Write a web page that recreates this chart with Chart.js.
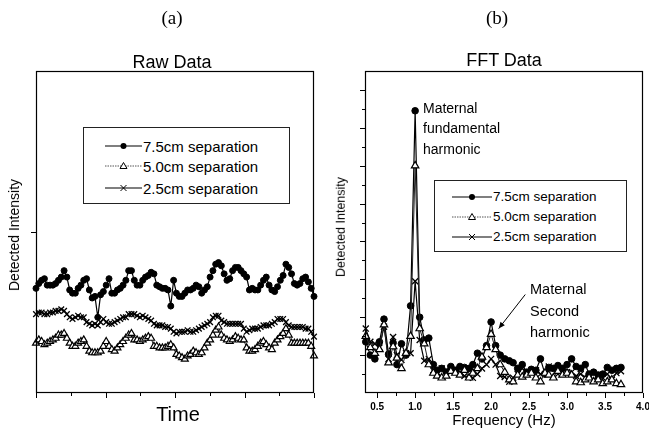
<!DOCTYPE html>
<html>
<head>
<meta charset="utf-8">
<script src="https://cdn.jsdelivr.net/npm/chart.js"></script>
<style>
	body { margin: 0; background: #fff; }
	#wrap { position: relative; width: 649px; height: 436px; overflow: hidden; font-family: "Liberation Sans", Arial, sans-serif; color: #000; }
	canvas { position: absolute; top: 0; }
	.t { position: absolute; white-space: nowrap; line-height: 1; }
	.c { transform: translate(-50%, -50%); }
	.l { transform: translate(0, -50%); }
	.rot { transform: translate(-50%, -50%) rotate(-90deg); }
	.lg { position: absolute; box-sizing: border-box; border: 1px solid #222; background: #fff; }
	.row { position: absolute; left: 0; height: 12px; }
	.row svg { position: absolute; top: 0; }
	.row span { position: absolute; top: 6px; transform: translate(0, -50%); white-space: nowrap; line-height: 1; }
</style>
</head>
<body>
<div id="wrap">
	<canvas id="cntx_raw" width="325" height="436" style="left:0"></canvas>
	<canvas id="cntx_fft" width="324" height="436" style="left:325px"></canvas>

	<div class="t c" style="left:172px;top:18px;font:19px 'Liberation Serif',serif;">(a)</div>
	<div class="t c" style="left:497px;top:18px;font:19px 'Liberation Serif',serif;">(b)</div>
	<div class="t c" style="left:172px;top:62px;font-size:18px;">Raw Data</div>
	<div class="t c" style="left:504px;top:60px;font-size:18px;">FFT Data</div>
	<div class="t rot" style="left:14px;top:235px;font-size:14px;">Detected Intensity</div>
	<div class="t rot" style="left:341px;top:227px;font-size:12.5px;">Detected Intensity</div>
	<div class="t c" style="left:178px;top:414px;font-size:20px;">Time</div>
	<div class="t c" style="left:504px;top:419px;font-size:15px;">Frequency (Hz)</div>

	<div class="t l" style="left:423px;top:108px;font-size:14px;">Maternal</div>
	<div class="t l" style="left:423px;top:128px;font-size:14px;">fundamental</div>
	<div class="t l" style="left:423px;top:149px;font-size:14px;">harmonic</div>
	<div class="t l" style="left:530px;top:289px;font-size:14.5px;">Maternal</div>
	<div class="t l" style="left:530px;top:311px;font-size:14.5px;">Second</div>
	<div class="t l" style="left:530px;top:332px;font-size:14.5px;">harmonic</div>

	<div class="lg" id="legend_raw" style="left:83px;top:127px;width:207px;height:77px;"></div>
	<div class="lg" id="legend_fft" style="left:434px;top:180px;width:193px;height:72px;"></div>
</div>
<script>
// series names
const seriesLabels = ["7.5cm separation", "5.0cm separation", "2.5cm separation"];

// (a) raw data, one value per sample (arbitrary units)
const raw75 = [
	0.65, 0.68, 0.70, 0.71, 0.67, 0.67, 0.67, 0.68, 0.70, 0.72,
	0.76, 0.72, 0.64, 0.62, 0.62, 0.65, 0.67, 0.70, 0.71, 0.64,
	0.59, 0.60, 0.47, 0.61, 0.63, 0.67, 0.71, 0.62, 0.62, 0.64,
	0.65, 0.67, 0.70, 0.76, 0.76, 0.70, 0.67, 0.67, 0.70, 0.72,
	0.73, 0.75, 0.74, 0.67, 0.66, 0.65, 0.65, 0.64, 0.54, 0.70,
	0.62, 0.60, 0.60, 0.62, 0.64, 0.64, 0.65, 0.67, 0.66, 0.62,
	0.64, 0.66, 0.72, 0.76, 0.80, 0.81, 0.79, 0.74, 0.70, 0.71,
	0.76, 0.78, 0.78, 0.76, 0.74, 0.72, 0.64, 0.65, 0.64, 0.64,
	0.67, 0.70, 0.72, 0.67, 0.64, 0.63, 0.66, 0.70, 0.73, 0.80,
	0.78, 0.74, 0.68, 0.67, 0.68, 0.71, 0.72, 0.69, 0.65, 0.60,
];
const raw50 = [
	0.31, 0.33, 0.32, 0.30, 0.31, 0.32, 0.33, 0.34, 0.36, 0.36,
	0.37, 0.34, 0.31, 0.29, 0.29, 0.31, 0.32, 0.33, 0.29, 0.26,
	0.25, 0.25, 0.25, 0.26, 0.29, 0.32, 0.29, 0.27, 0.26, 0.28,
	0.30, 0.32, 0.34, 0.36, 0.37, 0.33, 0.33, 0.32, 0.33, 0.34,
	0.35, 0.34, 0.29, 0.29, 0.28, 0.28, 0.28, 0.29, 0.30, 0.28,
	0.24, 0.23, 0.22, 0.21, 0.23, 0.24, 0.26, 0.25, 0.24, 0.25,
	0.28, 0.31, 0.33, 0.36, 0.39, 0.41, 0.36, 0.34, 0.33, 0.32,
	0.33, 0.35, 0.34, 0.33, 0.33, 0.28, 0.26, 0.26, 0.27, 0.29,
	0.31, 0.32, 0.30, 0.28, 0.27, 0.31, 0.33, 0.35, 0.37, 0.40,
	0.36, 0.31, 0.31, 0.31, 0.31, 0.31, 0.31, 0.31, 0.29, 0.23,
];
const raw25 = [
	0.49, 0.50, 0.50, 0.49, 0.49, 0.50, 0.50, 0.51, 0.51, 0.52,
	0.51, 0.49, 0.47, 0.46, 0.47, 0.48, 0.47, 0.47, 0.44, 0.43,
	0.42, 0.43, 0.42, 0.44, 0.46, 0.44, 0.43, 0.43, 0.44, 0.45,
	0.46, 0.47, 0.47, 0.49, 0.49, 0.49, 0.48, 0.47, 0.48, 0.47,
	0.46, 0.45, 0.43, 0.42, 0.42, 0.42, 0.41, 0.41, 0.40, 0.38,
	0.37, 0.38, 0.38, 0.38, 0.39, 0.38, 0.38, 0.39, 0.40, 0.41,
	0.42, 0.43, 0.44, 0.47, 0.48, 0.48, 0.45, 0.44, 0.43, 0.43,
	0.43, 0.43, 0.43, 0.43, 0.40, 0.38, 0.39, 0.40, 0.40, 0.40,
	0.41, 0.42, 0.42, 0.42, 0.43, 0.44, 0.46, 0.46, 0.46, 0.44,
	0.42, 0.41, 0.41, 0.41, 0.41, 0.41, 0.40, 0.40, 0.38, 0.35,
];

// (b) FFT data
const fftFreq = [
	0.35, 0.41, 0.47, 0.53, 0.59, 0.65, 0.71, 0.76, 0.82, 0.88,
	0.94, 1.00, 1.06, 1.12, 1.18, 1.24, 1.29, 1.35, 1.41, 1.47,
	1.53, 1.59, 1.65, 1.71, 1.76, 1.82, 1.88, 1.94, 2.00, 2.06,
	2.12, 2.18, 2.24, 2.29, 2.35, 2.41, 2.47, 2.53, 2.59, 2.65,
	2.71, 2.76, 2.82, 2.88, 2.94, 3.00, 3.06, 3.12, 3.18, 3.24,
	3.29, 3.35, 3.41, 3.47, 3.53, 3.59, 3.65, 3.71,
];
const fft75 = [
	2.7, 2.0, 1.8, 2.7, 3.9, 2.05, 2.65, 1.5, 2.6, 2.0,
	4.6, 14.9, 4.0, 2.8, 2.9, 1.5, 1.2, 1.3, 1.1, 1.4,
	1.2, 1.4, 1.35, 1.3, 1.5, 2.1, 1.8, 2.5, 3.75, 2.5,
	2.0, 1.8, 1.7, 1.6, 1.3, 1.5, 1.1, 1.25, 1.2, 1.8,
	1.0, 1.35, 1.3, 1.45, 1.3, 1.5, 1.8, 1.4, 1.3, 1.5,
	1.0, 1.1, 0.95, 1.0, 1.35, 1.2, 1.3, 1.35,
];
const fft50 = [
	3.0, 2.4, 2.1, 2.3, 3.6, 1.6, 2.45, 1.85, 1.3, 2.1,
	3.0, 12.0, 3.4, 2.6, 1.5, 1.05, 0.9, 0.8, 0.9, 1.15,
	1.05, 0.95, 1.2, 0.8, 1.05, 1.3, 1.9, 2.4, 3.1, 2.3,
	1.5, 1.1, 0.7, 0.6, 0.95, 0.85, 0.95, 1.05, 0.8, 0.6,
	1.05, 0.95, 0.8, 1.15, 0.95, 1.05, 0.95, 0.6, 0.55, 0.7,
	0.8, 0.6, 0.7, 0.5, 0.6, 0.7, 0.5, 0.45,
];
const fft25 = [
	3.4, 2.7, 2.6, 2.4, 3.5, 1.8, 2.95, 2.0, 1.75, 2.1,
	2.1, 5.9, 2.8, 1.7, 1.8, 1.2, 1.1, 1.3, 1.2, 1.3,
	1.3, 1.1, 0.9, 0.85, 0.8, 1.0, 1.3, 1.5, 1.8, 1.5,
	0.9, 0.85, 0.6, 0.8, 1.0, 1.3, 1.1, 1.2, 1.2, 1.0,
	1.0, 1.4, 1.3, 1.0, 1.3, 1.1, 1.1, 0.9, 1.0, 0.8,
	0.9, 0.7, 0.9, 0.8, 1.0, 0.7, 1.05, 1.15,
];

// tick marks / labels
const rawXMajor = [0, 24.75, 49.5, 74.25, 99];
const rawXMinor = [12.375, 37.125, 61.875, 86.625];
const rawYMajor = [1];
const fftXMajor = [0.5, 1.0, 1.5, 2.0, 2.5, 3.0, 3.5, 4.0];
const fftXMinor = [0.75, 1.25, 1.75, 2.25, 2.75, 3.25, 3.75];
const fftYMajor = [2, 4, 6, 8, 10, 12, 14, 16];
const fftYMinor = [1, 3, 5, 7, 9, 11, 13, 15];

// frame, outward ticks, tick labels, arrow
const frameTicks = {
	id: "frameTicks",
	afterDraw(chart, args, opts) {
		const { ctx, chartArea: a } = chart;
		const x = chart.scales.x, y = chart.scales.y;
		ctx.save();
		ctx.strokeStyle = "#000";
		ctx.lineWidth = 1.2;
		ctx.strokeRect(a.left + 0.5, a.top + 0.5, a.right - a.left - 1, a.bottom - a.top - 1);
		ctx.lineWidth = 1;
		ctx.beginPath();
		const xt = (list, len) => list.forEach((v) => {
			const px = Math.round(x.getPixelForValue(v)) + 0.5;
			ctx.moveTo(px, a.bottom);
			ctx.lineTo(px, a.bottom + len);
		});
		const yt = (list, len) => list.forEach((v) => {
			const py = Math.round(y.getPixelForValue(v)) + 0.5;
			ctx.moveTo(a.left, py);
			ctx.lineTo(a.left - len, py);
		});
		xt(opts.xMajor || [], 5);
		xt(opts.xMinor || [], 3);
		yt(opts.yMajor || [], 5);
		yt(opts.yMinor || [], 3);
		ctx.stroke();
		if (opts.xLabels) {
			ctx.fillStyle = "#000";
			ctx.font = "bold 10px 'Liberation Sans', Arial, sans-serif";
			ctx.textAlign = "center";
			ctx.textBaseline = "middle";
			opts.xLabels.forEach((v) => ctx.fillText(v.toFixed(1), x.getPixelForValue(v), a.bottom + 14));
		}
		if (opts.arrow) {
			const x0 = x.getPixelForValue(opts.arrow.from[0]), y0 = y.getPixelForValue(opts.arrow.from[1]);
			const x1 = x.getPixelForValue(opts.arrow.to[0]), y1 = y.getPixelForValue(opts.arrow.to[1]);
			const ang = Math.atan2(y1 - y0, x1 - x0);
			ctx.beginPath();
			ctx.moveTo(x0, y0);
			ctx.lineTo(x1, y1);
			ctx.stroke();
			ctx.beginPath();
			ctx.moveTo(x1, y1);
			ctx.lineTo(x1 - 7 * Math.cos(ang - 0.4), y1 - 7 * Math.sin(ang - 0.4));
			ctx.lineTo(x1 - 7 * Math.cos(ang + 0.4), y1 - 7 * Math.sin(ang + 0.4));
			ctx.closePath();
			ctx.fillStyle = "#000";
			ctx.fill();
		}
		ctx.restore();
	},
};

const toPoints = (xs, ys) => ys.map((v, i) => ({ x: xs ? xs[i] : i, y: v }));

makeSets = (xs, a, b, c, r) => [
	{
		label: seriesLabels[0], data: toPoints(xs, a), order: 3,
		borderColor: "#000", borderWidth: 1.2, pointStyle: "circle",
		pointRadius: r, pointBackgroundColor: "#000", pointBorderColor: "#000", pointBorderWidth: 1,
	},
	{
		label: seriesLabels[1], data: toPoints(xs, b), order: 1,
		borderColor: "#222", borderWidth: 1, pointStyle: "triangle",
		pointRadius: r + 1, pointBackgroundColor: "#fff", pointBorderColor: "#000", pointBorderWidth: 1.2,
	},
	{
		label: seriesLabels[2], data: toPoints(xs, c), order: 2,
		borderColor: "#000", borderWidth: 1.2, pointStyle: "crossRot",
		pointRadius: r + 1, pointBorderColor: "#000", pointBorderWidth: 1.3,
	},
];

drawChart = (canvas, datasets, scales, padding, tickOpts) => {
	return new Chart(canvas, {
		type: "line",
		data: { datasets: datasets.map((d) => Object.assign({ tension: 0, clip: false, fill: false }, d)) },
		options: {
			responsive: false,
			animation: false,
			layout: { padding: padding },
			plugins: { legend: { display: false }, tooltip: { enabled: false }, frameTicks: tickOpts },
			scales: scales,
		},
		plugins: [frameTicks],
	});
};

drawChart(
	document.querySelector("#cntx_raw"),
	makeSets(null, raw75, raw50, raw25, 3),
	{
		x: { type: "linear", min: 0, max: 99, display: false },
		y: { type: "linear", min: 0, max: 2, display: false },
	},
	{ left: 36, top: 71, right: 11, bottom: 43 },
	{ xMajor: rawXMajor, xMinor: rawXMinor, yMajor: rawYMajor }
);

drawChart(
	document.querySelector("#cntx_fft"),
	makeSets(fftFreq, fft75, fft50, fft25, 3.3),
	{
		x: { type: "linear", min: 0.34, max: 4.0, display: false },
		y: { type: "linear", min: 0, max: 17, display: false },
	},
	{ left: 40, top: 71, right: 6, bottom: 43 },
	{
		xMajor: fftXMajor, xMinor: fftXMinor, yMajor: fftYMajor, yMinor: fftYMinor,
		xLabels: fftXMajor, arrow: { from: [2.45, 5.2], to: [2.1, 3.4] },
	}
);

// legends (symbol + text)
const symbol = (i, w) => {
	const m = w / 2;
	let line = '<line x1="0" y1="6" x2="' + w + '" y2="6" stroke="#000" stroke-width="1.2"/>';
	let mark = "";
	if (i === 0) mark = '<circle cx="' + m + '" cy="6" r="3" fill="#000"/>';
	if (i === 1) {
		line = '<line x1="0" y1="6" x2="' + w + '" y2="6" stroke="#555" stroke-width="1" stroke-dasharray="1.5,1"/>';
		mark = '<polygon points="' + m + ',2.5 ' + (m - 3.5) + ',8.5 ' + (m + 3.5) + ',8.5" fill="#fff" stroke="#000" stroke-width="1"/>';
	}
	if (i === 2) mark = '<path d="M' + (m - 3) + ',3 L' + (m + 3) + ',9 M' + (m + 3) + ',3 L' + (m - 3) + ',9" stroke="#000" stroke-width="1"/>';
	return '<svg width="' + w + '" height="12">' + line + mark + "</svg>";
};
const buildLegend = (el, rows, lineLeft, lineW, textLeft, fontSize) => {
	el.innerHTML = seriesLabels.map((lab, i) =>
		'<div class="row" style="top:' + (rows[i] - 6) + 'px;width:100%">' +
		'<div style="position:absolute;left:' + lineLeft + 'px">' + symbol(i, lineW) + "</div>" +
		'<span style="left:' + textLeft + 'px;font-size:' + fontSize + 'px">' + lab + "</span></div>"
	).join("");
};
buildLegend(document.querySelector("#legend_raw"), [18, 38, 60], 21, 37, 59, 15);
buildLegend(document.querySelector("#legend_fft"), [16, 36, 56], 17, 40, 58, 13.5);
</script>
</body>
</html>
